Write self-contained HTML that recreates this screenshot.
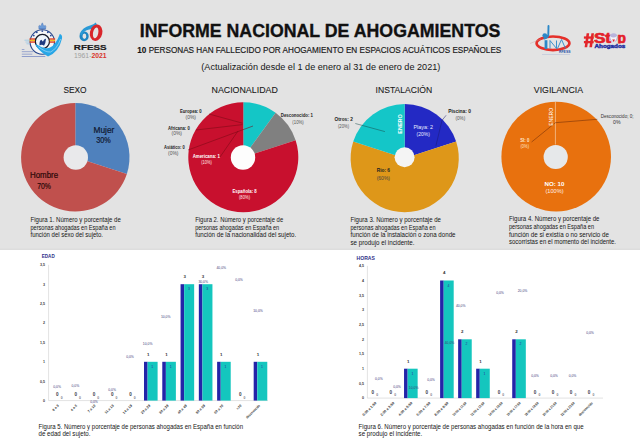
<!DOCTYPE html>
<html><head><meta charset="utf-8"><style>
html,body{margin:0;padding:0;width:640px;height:441px;overflow:hidden;background:#fff}
svg{display:block;font-family:"Liberation Sans", sans-serif}
</style></head><body>
<svg width="640" height="441" viewBox="0 0 640 441">
<rect x="0" y="0" width="640" height="250" fill="#e3e3e3"/><rect x="0" y="248.6" width="640" height="1.4" fill="#dddddd"/>
<rect x="0" y="250" width="640" height="191" fill="#ffffff"/>
<text x="139.8" y="36.9" font-size="18.8" fill="#111" font-weight="bold" text-anchor="start" textLength="360.5" lengthAdjust="spacingAndGlyphs" stroke="#111" stroke-width="0.35">INFORME NACIONAL DE AHOGAMIENTOS</text>
<text x="137.3" y="52.9" font-size="8.2" fill="#161616" stroke="#161616" stroke-width="0.15" textLength="364" lengthAdjust="spacingAndGlyphs"><tspan font-weight="bold">10</tspan> PERSONAS HAN FALLECIDO POR AHOGAMIENTO EN ESPACIOS ACUÁTICOS ESPAÑOLES</text>
<text x="201.3" y="69.6" font-size="9.6" fill="#161616" font-weight="normal" text-anchor="start" textLength="239" lengthAdjust="spacingAndGlyphs" >(Actualización desde el 1 de enero al 31 de enero de 2021)</text>
<g>
<path d="M38.9,28.6 Q38.2,25.8 39.4,25.2 Q40.4,26.4 41.2,25.4 Q41.6,23.6 42.3,22.8 Q43,23.6 43.4,25.4 Q44.2,26.4 45.2,25.2 Q46.4,25.8 45.7,28.6 Z" fill="#6b9bd8" stroke="#3d64a8" stroke-width="0.35"/>
<rect x="38.8" y="28" width="7" height="1.2" fill="#5a86c8"/>
<circle cx="42.3" cy="42" r="12.2" fill="#f6f6f6" stroke="#27468c" stroke-width="1.1"/>
<circle cx="42.4" cy="41.5" r="7.1" fill="#eef4fa" stroke="#161a2a" stroke-width="1.3"/>
<g fill="#2d4d9a"><circle cx="33.8" cy="35.6" r="0.95"/><circle cx="36.8" cy="32.3" r="0.95"/><circle cx="42.3" cy="31.1" r="0.95"/><circle cx="47.8" cy="32.3" r="0.95"/><circle cx="50.8" cy="35.6" r="0.95"/></g>
<rect x="29.5" y="38.3" width="5.5" height="1.5" fill="#e0412c"/><rect x="29.5" y="39.8" width="5.5" height="1.6" fill="#f0c020"/><rect x="29.5" y="41.4" width="5.5" height="1.4" fill="#e0412c"/>
<rect x="49.6" y="38.3" width="5.5" height="1.5" fill="#e0412c"/><rect x="49.6" y="39.8" width="5.5" height="1.6" fill="#f0c020"/><rect x="49.6" y="41.4" width="5.5" height="1.4" fill="#e0412c"/>
<path d="M39.5,45.5 Q39.2,40.5 41.5,39.8 Q42.5,42 43,41.5 Q44,38.5 46,38.8 Q45.8,43 44,45.7 Q42,43.8 39.5,45.5 Z" fill="#1e3a80"/>
<path d="M35.8,44 Q45,49.8 50,47.6 Q56,44.8 59.8,34 Q62.6,34.5 62,38.5 Q59,52 48,56.5 Q40,52 35.8,45.8 Z" fill="#28a6e6"/>
<path d="M38.5,46.8 Q45.5,52.5 50.5,52 Q57,49 60.6,39" stroke="#d8f0fb" stroke-width="0.5" fill="none"/>
<g stroke="#6cb4e6" stroke-width="0.5"><line x1="24.5" y1="40.2" x2="29.5" y2="40.2"/><line x1="25.5" y1="42" x2="29.5" y2="42"/><line x1="26.5" y1="43.8" x2="29.5" y2="43.8"/></g>
<g fill="#6a7fc0"><rect x="21.8" y="49.2" width="2.6" height="0.6"/><rect x="21.8" y="51.5" width="11.5" height="0.6"/><rect x="21.8" y="53.8" width="10.5" height="0.6"/><rect x="21.8" y="56" width="23.5" height="0.7"/></g>
</g>
<path fill-rule="evenodd" fill="#1f86c2" d="M79.5,36.3 A4.6,4.9 0 1 0 88.7,36.3 A4.6,4.9 0 1 0 79.5,36.3 Z M82.5,36.3 A1.9,2.7 0 1 0 86.3,36.3 A1.9,2.7 0 1 0 82.5,36.3 Z"/>
<path fill="#2a9ad6" d="M79.6,34 Q82.5,27.5 90,25.6 Q94,24.6 95.8,22.6 Q97.6,24.5 96.4,27.2 Q93.5,29 88.2,29.8 Q83.5,30.8 81.8,35.5 Z"/>
<g transform="rotate(12 96.1 32.7)"><path fill-rule="evenodd" fill="#d9262b" d="M89.9,32.7 A6.2,8.3 0 1 0 102.3,32.7 A6.2,8.3 0 1 0 89.9,32.7 Z M93.1,33 A2.6,5.5 0 1 0 98.3,33 A2.6,5.5 0 1 0 93.1,33 Z"/></g>
<text x="73.8" y="49.8" font-size="7.7" fill="#1b1b1b" font-weight="bold" text-anchor="start" textLength="32.8" lengthAdjust="spacingAndGlyphs" stroke="#1b1b1b" stroke-width="0.2">RFESS</text>
<text x="74" y="57.8" font-size="6.6" font-weight="bold" textLength="32.6" lengthAdjust="spacingAndGlyphs"><tspan fill="#a0a0a0" font-weight="normal">1961-</tspan><tspan fill="#d8342c">2021</tspan></text>
<ellipse cx="553" cy="43.3" rx="16.4" ry="6.8" fill="none" stroke="#e5302a" stroke-width="2.7"/>
<line x1="530" y1="43.5" x2="541" y2="39" stroke="#c99" stroke-width="0.4"/>
<circle cx="544.8" cy="35.6" r="2.4" fill="#2b88c8"/>
<path d="M548.5,26 L548.3,34.5 Q548,38 544.5,38.5" stroke="#2b88c8" stroke-width="1.9" fill="none" stroke-linecap="round"/>
<rect x="544.6" y="40.2" width="2.8" height="8.8" fill="#2b88c8"/>
<path d="M550,48.5 L550,40.5 L556.5,48.5 L556.5,40.5 M557.5,48.5 L561.5,39.5 L565.5,48.5" stroke="#2b88c8" stroke-width="0.9" fill="none"/>
<text x="559" y="52.8" font-size="2.6" fill="#1f4fa8" font-weight="bold" text-anchor="start" textLength="11.5" lengthAdjust="spacingAndGlyphs" >RFESS</text>
<rect x="542" y="54.3" width="28" height="0.5" fill="#b0bad6"/>
<g fill="#e3262b"><path d="M586.6,33.2 L589.2,33.2 L587.2,47.2 L584.6,47.2 Z"/><path d="M591.4,33.2 L594,33.2 L592,47.2 L589.4,47.2 Z"/><rect x="583.9" y="36.4" width="9.8" height="2.3"/><rect x="583.9" y="41" width="9.8" height="2.3"/></g>
<text x="593.9" y="42.6" font-size="14.0" fill="#e3202a" font-weight="bold" text-anchor="start" textLength="17.2" lengthAdjust="spacingAndGlyphs" stroke="#e3202a" stroke-width="0.7">St</text>
<circle cx="613.6" cy="37.6" r="4.3" fill="#b9b4dc"/>
<path d="M610,36 Q613.5,39 617,36 Q616.5,41 613.6,41.9 Q610.5,41 610,36 Z" fill="#f4f4f8"/>
<path d="M612.2,39.5 L615,39.5 L613.6,42 Z" fill="#e3262b"/>
<text x="617.4" y="42.6" font-size="14.0" fill="#e3202a" font-weight="bold" text-anchor="start" textLength="8.4" lengthAdjust="spacingAndGlyphs" stroke="#e3202a" stroke-width="0.7">p</text>
<rect x="594" y="43.6" width="32" height="4.4" fill="#e3e3e3"/>
<text x="594.5" y="47.6" font-size="5.2" fill="#1f2fa0" font-weight="bold" stroke="#1f2fa0" stroke-width="0.4" textLength="30.8" lengthAdjust="spacingAndGlyphs">Ahogados</text>
<text x="63.4" y="92.8" font-size="9.8" fill="#161616" font-weight="normal" text-anchor="start" textLength="23.2" lengthAdjust="spacingAndGlyphs" stroke="#161616" stroke-width="0.08">SEXO</text>
<text x="211.5" y="92.8" font-size="9.8" fill="#161616" font-weight="normal" text-anchor="start" textLength="66.3" lengthAdjust="spacingAndGlyphs" stroke="#161616" stroke-width="0.08">NACIONALIDAD</text>
<text x="375.6" y="92.8" font-size="9.8" fill="#161616" font-weight="normal" text-anchor="start" textLength="56.6" lengthAdjust="spacingAndGlyphs" stroke="#161616" stroke-width="0.08">INSTALACIÓN</text>
<text x="533.8" y="92.8" font-size="9.8" fill="#161616" font-weight="normal" text-anchor="start" textLength="49.2" lengthAdjust="spacingAndGlyphs" stroke="#161616" stroke-width="0.08">VIGILANCIA</text>
<path d="M75.30,157.30 L75.30,103.10 A54.2,54.2 0 0 1 126.85,174.05 Z" fill="#4f81bd"/>
<path d="M75.30,157.30 L126.85,174.05 A54.2,54.2 0 1 1 75.30,103.10 Z" fill="#c0504d"/>
<circle cx="75.8" cy="157.5" r="12.2" fill="#e9e9eb"/>
<text x="93.5" y="132.7" font-size="8.2" fill="#101830" font-weight="normal" text-anchor="start" textLength="20.9" lengthAdjust="spacingAndGlyphs" stroke="#101830" stroke-width="0.2">Mujer</text>
<text x="96.2" y="142.7" font-size="8.2" fill="#101830" font-weight="normal" text-anchor="start" textLength="14.5" lengthAdjust="spacingAndGlyphs" stroke="#101830" stroke-width="0.2">30%</text>
<text x="30" y="178.4" font-size="8.2" fill="#2a0808" font-weight="normal" text-anchor="start" textLength="28.1" lengthAdjust="spacingAndGlyphs" stroke="#2a0808" stroke-width="0.2">Hombre</text>
<text x="37.2" y="188.6" font-size="8.2" fill="#2a0808" font-weight="normal" text-anchor="start" textLength="13.7" lengthAdjust="spacingAndGlyphs" stroke="#2a0808" stroke-width="0.2">70%</text>
<path d="M243.30,157.30 L243.30,102.30 A55,55 0 0 1 275.63,112.80 Z" fill="#14c6c6"/>
<path d="M243.30,157.30 L275.63,112.80 A55,55 0 0 1 295.61,140.30 Z" fill="#808080"/>
<path d="M243.30,157.30 L295.61,140.30 A55,55 0 1 1 243.30,102.30 Z" fill="#c8102e"/>
<circle cx="243" cy="157.5" r="12.2" fill="#fdfdfd"/>
<g stroke="#7a0a14" stroke-width="0.55" fill="none"><line x1="209" y1="114" x2="242.5" y2="123.2"/><line x1="196" y1="130" x2="242.5" y2="124.6"/><line x1="188" y1="150" x2="253" y2="126"/><line x1="220" y1="157" x2="238" y2="131"/></g>
<text x="180" y="113" font-size="4.8" fill="#222" font-weight="bold" text-anchor="start" textLength="21.7" lengthAdjust="spacingAndGlyphs" >Europea: 0</text>
<text x="185.5" y="119" font-size="4.8" fill="#555" font-weight="normal" text-anchor="start" textLength="10.5" lengthAdjust="spacingAndGlyphs" >(0%)</text>
<text x="168" y="129.5" font-size="4.8" fill="#222" font-weight="bold" text-anchor="start" textLength="21.8" lengthAdjust="spacingAndGlyphs" >Africana: 0</text>
<text x="171.5" y="135.2" font-size="4.8" fill="#555" font-weight="normal" text-anchor="start" textLength="10.5" lengthAdjust="spacingAndGlyphs" >(0%)</text>
<text x="164" y="148.5" font-size="4.8" fill="#222" font-weight="bold" text-anchor="start" textLength="20.8" lengthAdjust="spacingAndGlyphs" >Asiático: 0</text>
<text x="168" y="154.5" font-size="4.8" fill="#555" font-weight="normal" text-anchor="start" textLength="10.5" lengthAdjust="spacingAndGlyphs" >(0%)</text>
<text x="192.7" y="158" font-size="4.8" fill="#ffffff" font-weight="bold" text-anchor="start" textLength="27.2" lengthAdjust="spacingAndGlyphs" >Americana: 1</text>
<text x="201.2" y="164.3" font-size="4.8" fill="#ffe8e8" font-weight="normal" text-anchor="start" textLength="10.6" lengthAdjust="spacingAndGlyphs" >(10%)</text>
<text x="280.8" y="117.3" font-size="4.8" fill="#222" font-weight="bold" text-anchor="start" textLength="32.2" lengthAdjust="spacingAndGlyphs" >Desconocido: 1</text>
<text x="292.3" y="123.5" font-size="4.8" fill="#555" font-weight="normal" text-anchor="start" textLength="11.5" lengthAdjust="spacingAndGlyphs" >(10%)</text>
<text x="232.4" y="193" font-size="4.8" fill="#ffffff" font-weight="bold" text-anchor="start" textLength="24.3" lengthAdjust="spacingAndGlyphs" >Española: 8</text>
<text x="239" y="198.9" font-size="4.8" fill="#ffe8e8" font-weight="normal" text-anchor="start" textLength="11" lengthAdjust="spacingAndGlyphs" >(80%)</text>
<path d="M404.70,158.20 L404.70,104.10 A54.1,54.1 0 0 1 456.15,141.48 Z" fill="#2329c4"/>
<path d="M404.70,158.20 L456.15,141.48 A54.1,54.1 0 1 1 353.25,141.48 Z" fill="#de9719"/>
<path d="M404.70,158.20 L353.25,141.48 A54.1,54.1 0 0 1 404.70,104.10 Z" fill="#14c6c8"/>
<circle cx="404.6" cy="157.3" r="10.0" fill="#f4f4f4"/>
<line x1="355.3" y1="123.5" x2="384.9" y2="131.6" stroke="#1a4a4a" stroke-width="0.5"/>
<polyline points="446.1,115.3 442,120.4 435.9,145.9" stroke="#1a1a70" stroke-width="0.5" fill="none"/>
<text x="0" y="0" font-size="6" fill="#fff" font-weight="bold" transform="translate(401.8,133.7) rotate(-90)" textLength="19.4" lengthAdjust="spacingAndGlyphs">ENERO</text>
<text x="334.6" y="120.5" font-size="4.8" fill="#222" font-weight="bold" text-anchor="start" textLength="18.2" lengthAdjust="spacingAndGlyphs" >Otros: 2</text>
<text x="338" y="128.2" font-size="4.8" fill="#555" font-weight="normal" text-anchor="start" textLength="11" lengthAdjust="spacingAndGlyphs" >(20%)</text>
<text x="448.2" y="113.3" font-size="4.8" fill="#222" font-weight="bold" text-anchor="start" textLength="22.8" lengthAdjust="spacingAndGlyphs" >Piscina: 0</text>
<text x="455.5" y="120.4" font-size="4.8" fill="#555" font-weight="normal" text-anchor="start" textLength="9.8" lengthAdjust="spacingAndGlyphs" >(0%)</text>
<text x="413.5" y="129" font-size="4.8" fill="#e8ecff" font-weight="normal" text-anchor="start" textLength="19.4" lengthAdjust="spacingAndGlyphs" >Playa: 2</text>
<text x="416.5" y="136.3" font-size="4.8" fill="#e8ecff" font-weight="normal" text-anchor="start" textLength="13.3" lengthAdjust="spacingAndGlyphs" >(20%)</text>
<text x="376.7" y="172.4" font-size="4.8" fill="#222" font-weight="bold" text-anchor="start" textLength="13.3" lengthAdjust="spacingAndGlyphs" >Rio: 6</text>
<text x="376.7" y="179.6" font-size="4.8" fill="#444" font-weight="normal" text-anchor="start" textLength="13.3" lengthAdjust="spacingAndGlyphs" >(60%)</text>
<circle cx="556.2" cy="156.6" r="54.8" fill="#e8710e"/>
<circle cx="555.7" cy="157.0" r="12.1" fill="#e6e8ea"/>
<line x1="555.4" y1="101.8" x2="555.4" y2="144.5" stroke="#f7cfa8" stroke-width="0.7"/>
<polyline points="531.6,142 555.4,122.7 597.3,119.3" stroke="#7a3208" stroke-width="0.6" fill="none"/>
<text x="0" y="0" font-size="6" fill="#fff" transform="translate(553.1,125.8) rotate(-90)" textLength="17.9" lengthAdjust="spacingAndGlyphs">ENERO</text>
<text x="520.2" y="142" font-size="4.8" fill="#ffe6cc" font-weight="bold" text-anchor="start" textLength="9.1" lengthAdjust="spacingAndGlyphs" >SI: 0</text>
<text x="520.5" y="147.6" font-size="4.8" fill="#ffe0c8" font-weight="normal" text-anchor="start" textLength="8.5" lengthAdjust="spacingAndGlyphs" >(0%)</text>
<text x="600.7" y="118.1" font-size="4.8" fill="#333" font-weight="normal" text-anchor="start" textLength="32.9" lengthAdjust="spacingAndGlyphs" >Desconocido; 0;</text>
<text x="613" y="123.8" font-size="4.8" fill="#333" font-weight="normal" text-anchor="start" textLength="7.5" lengthAdjust="spacingAndGlyphs" >0%</text>
<text x="544.5" y="185.8" font-size="6.0" fill="#ffffff" font-weight="bold" text-anchor="start" textLength="20.0" lengthAdjust="spacingAndGlyphs" >NO: 10</text>
<text x="545.5" y="193.2" font-size="5.8" fill="#fff0e4" font-weight="normal" text-anchor="start" textLength="18.0" lengthAdjust="spacingAndGlyphs" >(100%)</text>
<text x="30.5" y="221.8" font-size="6.6" fill="#151515" font-weight="normal" text-anchor="start" textLength="90.3" lengthAdjust="spacingAndGlyphs" >Figura 1. Número y porcentaje de</text>
<text x="30.5" y="229.55" font-size="6.6" fill="#151515" font-weight="normal" text-anchor="start" textLength="85" lengthAdjust="spacingAndGlyphs" >personas ahogadas en España en</text>
<text x="30.5" y="237.3" font-size="6.6" fill="#151515" font-weight="normal" text-anchor="start" textLength="72.5" lengthAdjust="spacingAndGlyphs" >función del sexo del sujeto.</text>
<text x="195.2" y="221.8" font-size="6.6" fill="#151515" font-weight="normal" text-anchor="start" textLength="88" lengthAdjust="spacingAndGlyphs" >Figura 2. Número y porcentaje de</text>
<text x="195.2" y="229.55" font-size="6.6" fill="#151515" font-weight="normal" text-anchor="start" textLength="84" lengthAdjust="spacingAndGlyphs" >personas ahogadas en España en</text>
<text x="195.2" y="237.3" font-size="6.6" fill="#151515" font-weight="normal" text-anchor="start" textLength="101" lengthAdjust="spacingAndGlyphs" >función de la nacionalidad del sujeto.</text>
<text x="350.5" y="221.8" font-size="6.6" fill="#151515" font-weight="normal" text-anchor="start" textLength="90.5" lengthAdjust="spacingAndGlyphs" >Figura 3. Número y porcentaje de</text>
<text x="350.5" y="229.55" font-size="6.6" fill="#151515" font-weight="normal" text-anchor="start" textLength="85" lengthAdjust="spacingAndGlyphs" >personas ahogadas en España en</text>
<text x="350.5" y="237.3" font-size="6.6" fill="#151515" font-weight="normal" text-anchor="start" textLength="105" lengthAdjust="spacingAndGlyphs" >función de la instalación o zona donde</text>
<text x="350.5" y="245.05" font-size="6.6" fill="#151515" font-weight="normal" text-anchor="start" textLength="64" lengthAdjust="spacingAndGlyphs" >se produjo el incidente.</text>
<text x="509" y="221.0" font-size="6.6" fill="#151515" font-weight="normal" text-anchor="start" textLength="90.5" lengthAdjust="spacingAndGlyphs" >Figura 4. Número y porcentaje de</text>
<text x="509" y="228.75" font-size="6.6" fill="#151515" font-weight="normal" text-anchor="start" textLength="85" lengthAdjust="spacingAndGlyphs" >personas ahogadas en España en</text>
<text x="509" y="236.5" font-size="6.6" fill="#151515" font-weight="normal" text-anchor="start" textLength="100" lengthAdjust="spacingAndGlyphs" >función de si existía o no servicio de</text>
<text x="509" y="244.25" font-size="6.6" fill="#151515" font-weight="normal" text-anchor="start" textLength="107" lengthAdjust="spacingAndGlyphs" >socorristas en el momento del incidente.</text>
<line x1="48.6" y1="264.8" x2="48.6" y2="400.6" stroke="#cfcfcf" stroke-width="0.6"/>
<line x1="48.6" y1="400.6" x2="268" y2="400.6" stroke="#cfcfcf" stroke-width="0.6"/>
<text x="45.1" y="401.9" font-size="3.6" fill="#3a3a3a" font-weight="bold" text-anchor="end" >0</text>
<text x="45.1" y="382.5" font-size="3.6" fill="#3a3a3a" font-weight="bold" text-anchor="end" >0,5</text>
<text x="45.1" y="363.1" font-size="3.6" fill="#3a3a3a" font-weight="bold" text-anchor="end" >1</text>
<text x="45.1" y="343.7" font-size="3.6" fill="#3a3a3a" font-weight="bold" text-anchor="end" >1,5</text>
<text x="45.1" y="324.3" font-size="3.6" fill="#3a3a3a" font-weight="bold" text-anchor="end" >2</text>
<text x="45.1" y="304.9" font-size="3.6" fill="#3a3a3a" font-weight="bold" text-anchor="end" >2,5</text>
<text x="45.1" y="285.5" font-size="3.6" fill="#3a3a3a" font-weight="bold" text-anchor="end" >3</text>
<text x="45.1" y="266.1" font-size="3.6" fill="#3a3a3a" font-weight="bold" text-anchor="end" >3,5</text>
<text x="41.8" y="258.4" font-size="4.6" fill="#2e2e88" font-weight="bold" text-anchor="start" textLength="12.9" lengthAdjust="spacingAndGlyphs" >EDAD</text>
<text x="57.4" y="396.0" font-size="4.6" fill="#3a3a48" font-weight="bold" text-anchor="middle" >0</text>
<text x="61.7" y="398.8" font-size="3.4" fill="#7a7a88" font-weight="bold" text-anchor="middle" >0</text>
<text x="0" y="0" font-size="3.5" fill="#333" font-weight="bold" text-anchor="end" transform="translate(59.20,405.90) rotate(-45)">0 a 3</text>
<text x="75.68" y="396.0" font-size="4.6" fill="#3a3a48" font-weight="bold" text-anchor="middle" >0</text>
<text x="79.98" y="398.8" font-size="3.4" fill="#7a7a88" font-weight="bold" text-anchor="middle" >0</text>
<text x="0" y="0" font-size="3.5" fill="#333" font-weight="bold" text-anchor="end" transform="translate(77.48,405.90) rotate(-45)">4 a 6</text>
<text x="93.96" y="396.0" font-size="4.6" fill="#3a3a48" font-weight="bold" text-anchor="middle" >0</text>
<text x="98.26" y="398.8" font-size="3.4" fill="#7a7a88" font-weight="bold" text-anchor="middle" >0</text>
<text x="0" y="0" font-size="3.5" fill="#333" font-weight="bold" text-anchor="end" transform="translate(95.76,405.90) rotate(-45)">7 a 10</text>
<text x="112.24" y="396.0" font-size="4.6" fill="#3a3a48" font-weight="bold" text-anchor="middle" >0</text>
<text x="116.54" y="398.8" font-size="3.4" fill="#7a7a88" font-weight="bold" text-anchor="middle" >0</text>
<text x="0" y="0" font-size="3.5" fill="#333" font-weight="bold" text-anchor="end" transform="translate(114.04,405.90) rotate(-45)">11 a 13</text>
<text x="130.52" y="396.0" font-size="4.6" fill="#3a3a48" font-weight="bold" text-anchor="middle" >0</text>
<text x="134.82" y="398.8" font-size="3.4" fill="#7a7a88" font-weight="bold" text-anchor="middle" >0</text>
<text x="0" y="0" font-size="3.5" fill="#333" font-weight="bold" text-anchor="end" transform="translate(132.32,405.90) rotate(-45)">14 a 19</text>
<rect x="144.00" y="361.80" width="3.6" height="38.80" fill="#2424a8"/>
<rect x="147.60" y="361.80" width="10" height="38.80" fill="#14c6be"/>
<text x="148.2" y="355.6" font-size="4.4" fill="#333" font-weight="bold" text-anchor="middle" >1</text>
<text x="152.3" y="367.8" font-size="3.4" fill="#2b2d9f" font-weight="normal" text-anchor="middle" >1</text>
<text x="0" y="0" font-size="3.5" fill="#333" font-weight="bold" text-anchor="end" transform="translate(150.60,405.90) rotate(-45)">20 a 29</text>
<rect x="162.28" y="361.80" width="3.6" height="38.80" fill="#2424a8"/>
<rect x="165.88" y="361.80" width="10" height="38.80" fill="#14c6be"/>
<text x="166.48" y="355.6" font-size="4.4" fill="#333" font-weight="bold" text-anchor="middle" >1</text>
<text x="170.58" y="367.8" font-size="3.4" fill="#2b2d9f" font-weight="normal" text-anchor="middle" >1</text>
<text x="0" y="0" font-size="3.5" fill="#333" font-weight="bold" text-anchor="end" transform="translate(168.88,405.90) rotate(-45)">30 a 39</text>
<rect x="180.56" y="284.20" width="3.6" height="116.40" fill="#2424a8"/>
<rect x="184.16" y="284.20" width="10" height="116.40" fill="#14c6be"/>
<text x="184.76" y="278.0" font-size="4.4" fill="#333" font-weight="bold" text-anchor="middle" >3</text>
<text x="188.86" y="290.2" font-size="3.4" fill="#2b2d9f" font-weight="normal" text-anchor="middle" >3</text>
<text x="0" y="0" font-size="3.5" fill="#333" font-weight="bold" text-anchor="end" transform="translate(187.16,405.90) rotate(-45)">40 a 49</text>
<rect x="198.84" y="284.20" width="3.6" height="116.40" fill="#2424a8"/>
<rect x="202.44" y="284.20" width="10" height="116.40" fill="#14c6be"/>
<text x="203.04" y="278.0" font-size="4.4" fill="#333" font-weight="bold" text-anchor="middle" >3</text>
<text x="207.14" y="290.2" font-size="3.4" fill="#2b2d9f" font-weight="normal" text-anchor="middle" >3</text>
<text x="0" y="0" font-size="3.5" fill="#333" font-weight="bold" text-anchor="end" transform="translate(205.44,405.90) rotate(-45)">50 a 59</text>
<rect x="217.12" y="361.80" width="3.6" height="38.80" fill="#2424a8"/>
<rect x="220.72" y="361.80" width="10" height="38.80" fill="#14c6be"/>
<text x="221.32" y="355.6" font-size="4.4" fill="#333" font-weight="bold" text-anchor="middle" >1</text>
<text x="225.42" y="367.8" font-size="3.4" fill="#2b2d9f" font-weight="normal" text-anchor="middle" >1</text>
<text x="0" y="0" font-size="3.5" fill="#333" font-weight="bold" text-anchor="end" transform="translate(223.72,405.90) rotate(-45)">60 a 70</text>
<text x="240.2" y="396.0" font-size="4.6" fill="#3a3a48" font-weight="bold" text-anchor="middle" >0</text>
<text x="244.5" y="398.8" font-size="3.4" fill="#7a7a88" font-weight="bold" text-anchor="middle" >0</text>
<text x="0" y="0" font-size="3.5" fill="#333" font-weight="bold" text-anchor="end" transform="translate(242.00,405.90) rotate(-45)">&gt;70</text>
<rect x="253.68" y="361.80" width="3.6" height="38.80" fill="#2424a8"/>
<rect x="257.28" y="361.80" width="10" height="38.80" fill="#14c6be"/>
<text x="257.88" y="355.6" font-size="4.4" fill="#333" font-weight="bold" text-anchor="middle" >1</text>
<text x="261.98" y="367.8" font-size="3.4" fill="#2b2d9f" font-weight="normal" text-anchor="middle" >1</text>
<text x="0" y="0" font-size="3.5" fill="#333" font-weight="bold" text-anchor="end" textLength="18.3" lengthAdjust="spacingAndGlyphs" transform="translate(260.28,405.90) rotate(-45)">desconocido</text>
<text x="57.1" y="388.3" font-size="3.4" fill="#3c3c78" font-weight="normal" text-anchor="middle" >0,0%</text>
<text x="75.3" y="387.3" font-size="3.4" fill="#3c3c78" font-weight="normal" text-anchor="middle" >0,0%</text>
<text x="94" y="402.8" font-size="3.4" fill="#3c3c78" font-weight="normal" text-anchor="middle" >0,0%</text>
<text x="112.1" y="391.3" font-size="3.4" fill="#3c3c78" font-weight="normal" text-anchor="middle" >0,0%</text>
<text x="130" y="357.8" font-size="3.4" fill="#3c3c78" font-weight="normal" text-anchor="middle" >0,0%</text>
<text x="147.6" y="344.8" font-size="3.4" fill="#3c3c78" font-weight="normal" text-anchor="middle" >10,0%</text>
<text x="165.7" y="318.3" font-size="3.4" fill="#3c3c78" font-weight="normal" text-anchor="middle" >10,0%</text>
<text x="203.2" y="282.8" font-size="3.4" fill="#3c3c78" font-weight="normal" text-anchor="middle" >30,0%</text>
<text x="221.3" y="268.8" font-size="3.4" fill="#3c3c78" font-weight="normal" text-anchor="middle" >40,0%</text>
<text x="239" y="281.3" font-size="3.4" fill="#3c3c78" font-weight="normal" text-anchor="middle" >0,0%</text>
<text x="258" y="311.8" font-size="3.4" fill="#3c3c78" font-weight="normal" text-anchor="middle" >10,0%</text>
<line x1="367.4" y1="265.8" x2="367.4" y2="398.1" stroke="#cfcfcf" stroke-width="0.6"/>
<line x1="367.4" y1="398.1" x2="603" y2="398.1" stroke="#cfcfcf" stroke-width="0.6"/>
<text x="363.9" y="399.4" font-size="3.6" fill="#3a3a3a" font-weight="bold" text-anchor="end" >0</text>
<text x="363.9" y="384.7" font-size="3.6" fill="#3a3a3a" font-weight="bold" text-anchor="end" >0,5</text>
<text x="363.9" y="370.0" font-size="3.6" fill="#3a3a3a" font-weight="bold" text-anchor="end" >1</text>
<text x="363.9" y="355.3" font-size="3.6" fill="#3a3a3a" font-weight="bold" text-anchor="end" >1,5</text>
<text x="363.9" y="340.6" font-size="3.6" fill="#3a3a3a" font-weight="bold" text-anchor="end" >2</text>
<text x="363.9" y="325.9" font-size="3.6" fill="#3a3a3a" font-weight="bold" text-anchor="end" >2,5</text>
<text x="363.9" y="311.2" font-size="3.6" fill="#3a3a3a" font-weight="bold" text-anchor="end" >3</text>
<text x="363.9" y="296.5" font-size="3.6" fill="#3a3a3a" font-weight="bold" text-anchor="end" >3,5</text>
<text x="363.9" y="281.8" font-size="3.6" fill="#3a3a3a" font-weight="bold" text-anchor="end" >4</text>
<text x="363.9" y="267.1" font-size="3.6" fill="#3a3a3a" font-weight="bold" text-anchor="end" >4,5</text>
<text x="356.6" y="259.7" font-size="5.2" fill="#2e2e88" font-weight="bold" text-anchor="start" textLength="18.2" lengthAdjust="spacingAndGlyphs" >HORAS</text>
<text x="372.78" y="393.5" font-size="4.6" fill="#3a3a48" font-weight="bold" text-anchor="middle" >0</text>
<text x="377.08" y="396.3" font-size="3.4" fill="#7a7a88" font-weight="bold" text-anchor="middle" >0</text>
<text x="0" y="0" font-size="3.5" fill="#333" font-weight="bold" text-anchor="end" textLength="18.3" lengthAdjust="spacingAndGlyphs" transform="translate(376.58,403.40) rotate(-45)">0:00 a 1:59</text>
<text x="390.81" y="393.5" font-size="4.6" fill="#3a3a48" font-weight="bold" text-anchor="middle" >0</text>
<text x="395.11" y="396.3" font-size="3.4" fill="#7a7a88" font-weight="bold" text-anchor="middle" >0</text>
<text x="0" y="0" font-size="3.5" fill="#333" font-weight="bold" text-anchor="end" textLength="18.3" lengthAdjust="spacingAndGlyphs" transform="translate(394.61,403.40) rotate(-45)">2:00 a 3:59</text>
<rect x="404.04" y="368.70" width="3.6" height="29.40" fill="#2424a8"/>
<rect x="407.64" y="368.70" width="10" height="29.40" fill="#14c6be"/>
<text x="408.24" y="362.5" font-size="4.4" fill="#333" font-weight="bold" text-anchor="middle" >1</text>
<text x="412.34" y="374.7" font-size="3.4" fill="#2b2d9f" font-weight="normal" text-anchor="middle" >1</text>
<text x="0" y="0" font-size="3.5" fill="#333" font-weight="bold" text-anchor="end" textLength="18.3" lengthAdjust="spacingAndGlyphs" transform="translate(412.64,403.40) rotate(-45)">4:00 a 5:59</text>
<text x="426.87" y="393.5" font-size="4.6" fill="#3a3a48" font-weight="bold" text-anchor="middle" >0</text>
<text x="431.17" y="396.3" font-size="3.4" fill="#7a7a88" font-weight="bold" text-anchor="middle" >0</text>
<text x="0" y="0" font-size="3.5" fill="#333" font-weight="bold" text-anchor="end" textLength="18.3" lengthAdjust="spacingAndGlyphs" transform="translate(430.67,403.40) rotate(-45)">6:00 a 7:59</text>
<rect x="440.10" y="280.50" width="3.6" height="117.60" fill="#2424a8"/>
<rect x="443.70" y="280.50" width="10" height="117.60" fill="#14c6be"/>
<text x="444.3" y="274.3" font-size="4.4" fill="#333" font-weight="bold" text-anchor="middle" >4</text>
<text x="448.4" y="286.5" font-size="3.4" fill="#2b2d9f" font-weight="normal" text-anchor="middle" >4</text>
<text x="0" y="0" font-size="3.5" fill="#333" font-weight="bold" text-anchor="end" textLength="18.3" lengthAdjust="spacingAndGlyphs" transform="translate(448.70,403.40) rotate(-45)">8:00 a 9:59</text>
<rect x="458.13" y="339.30" width="3.6" height="58.80" fill="#2424a8"/>
<rect x="461.73" y="339.30" width="10" height="58.80" fill="#14c6be"/>
<text x="462.33" y="333.1" font-size="4.4" fill="#333" font-weight="bold" text-anchor="middle" >2</text>
<text x="466.43" y="345.3" font-size="3.4" fill="#2b2d9f" font-weight="normal" text-anchor="middle" >2</text>
<text x="0" y="0" font-size="3.5" fill="#333" font-weight="bold" text-anchor="end" textLength="18.3" lengthAdjust="spacingAndGlyphs" transform="translate(466.73,403.40) rotate(-45)">10:00 a 11:59</text>
<rect x="476.16" y="368.70" width="3.6" height="29.40" fill="#2424a8"/>
<rect x="479.76" y="368.70" width="10" height="29.40" fill="#14c6be"/>
<text x="480.36" y="362.5" font-size="4.4" fill="#333" font-weight="bold" text-anchor="middle" >1</text>
<text x="484.46" y="374.7" font-size="3.4" fill="#2b2d9f" font-weight="normal" text-anchor="middle" >1</text>
<text x="0" y="0" font-size="3.5" fill="#333" font-weight="bold" text-anchor="end" textLength="18.3" lengthAdjust="spacingAndGlyphs" transform="translate(484.76,403.40) rotate(-45)">12:00 a 13:59</text>
<text x="498.99" y="393.5" font-size="4.6" fill="#3a3a48" font-weight="bold" text-anchor="middle" >0</text>
<text x="503.29" y="396.3" font-size="3.4" fill="#7a7a88" font-weight="bold" text-anchor="middle" >0</text>
<text x="0" y="0" font-size="3.5" fill="#333" font-weight="bold" text-anchor="end" textLength="18.3" lengthAdjust="spacingAndGlyphs" transform="translate(502.79,403.40) rotate(-45)">14:00 a 15:59</text>
<rect x="512.22" y="339.30" width="3.6" height="58.80" fill="#2424a8"/>
<rect x="515.82" y="339.30" width="10" height="58.80" fill="#14c6be"/>
<text x="516.42" y="333.1" font-size="4.4" fill="#333" font-weight="bold" text-anchor="middle" >2</text>
<text x="520.52" y="345.3" font-size="3.4" fill="#2b2d9f" font-weight="normal" text-anchor="middle" >2</text>
<text x="0" y="0" font-size="3.5" fill="#333" font-weight="bold" text-anchor="end" textLength="18.3" lengthAdjust="spacingAndGlyphs" transform="translate(520.82,403.40) rotate(-45)">16:00 a 17:59</text>
<text x="535.05" y="393.5" font-size="4.6" fill="#3a3a48" font-weight="bold" text-anchor="middle" >0</text>
<text x="539.35" y="396.3" font-size="3.4" fill="#7a7a88" font-weight="bold" text-anchor="middle" >0</text>
<text x="0" y="0" font-size="3.5" fill="#333" font-weight="bold" text-anchor="end" textLength="18.3" lengthAdjust="spacingAndGlyphs" transform="translate(538.85,403.40) rotate(-45)">18:00 a 19:59</text>
<text x="553.08" y="393.5" font-size="4.6" fill="#3a3a48" font-weight="bold" text-anchor="middle" >0</text>
<text x="557.38" y="396.3" font-size="3.4" fill="#7a7a88" font-weight="bold" text-anchor="middle" >0</text>
<text x="0" y="0" font-size="3.5" fill="#333" font-weight="bold" text-anchor="end" textLength="18.3" lengthAdjust="spacingAndGlyphs" transform="translate(556.88,403.40) rotate(-45)">20:00 a 21:59</text>
<text x="571.11" y="393.5" font-size="4.6" fill="#3a3a48" font-weight="bold" text-anchor="middle" >0</text>
<text x="575.41" y="396.3" font-size="3.4" fill="#7a7a88" font-weight="bold" text-anchor="middle" >0</text>
<text x="0" y="0" font-size="3.5" fill="#333" font-weight="bold" text-anchor="end" textLength="18.3" lengthAdjust="spacingAndGlyphs" transform="translate(574.91,403.40) rotate(-45)">22:00 a 23:59</text>
<text x="589.14" y="393.5" font-size="4.6" fill="#3a3a48" font-weight="bold" text-anchor="middle" >0</text>
<text x="593.44" y="396.3" font-size="3.4" fill="#7a7a88" font-weight="bold" text-anchor="middle" >0</text>
<text x="0" y="0" font-size="3.5" fill="#333" font-weight="bold" text-anchor="end" textLength="18.3" lengthAdjust="spacingAndGlyphs" transform="translate(592.94,403.40) rotate(-45)">desconocido</text>
<text x="378.9" y="379.8" font-size="3.4" fill="#3c3c78" font-weight="normal" text-anchor="middle" >0,0%</text>
<text x="397" y="388.3" font-size="3.4" fill="#3c3c78" font-weight="normal" text-anchor="middle" >0,0%</text>
<text x="413.6" y="389.3" font-size="3.4" fill="#3c3c78" font-weight="normal" text-anchor="middle" >10,0%</text>
<text x="431" y="380.8" font-size="3.4" fill="#3c3c78" font-weight="normal" text-anchor="middle" >0,0%</text>
<text x="449.5" y="343.8" font-size="3.4" fill="#3c3c78" font-weight="normal" text-anchor="middle" >40,0%</text>
<text x="460.7" y="307.3" font-size="3.4" fill="#3c3c78" font-weight="normal" text-anchor="middle" >40,0%</text>
<text x="500" y="293.8" font-size="3.4" fill="#3c3c78" font-weight="normal" text-anchor="middle" >0,0%</text>
<text x="522.5" y="292.3" font-size="3.4" fill="#3c3c78" font-weight="normal" text-anchor="middle" >20,0%</text>
<text x="535" y="377.3" font-size="3.4" fill="#3c3c78" font-weight="normal" text-anchor="middle" >0,0%</text>
<text x="554" y="377.3" font-size="3.4" fill="#3c3c78" font-weight="normal" text-anchor="middle" >0,0%</text>
<text x="572.5" y="377.3" font-size="3.4" fill="#3c3c78" font-weight="normal" text-anchor="middle" >0,0%</text>
<text x="590" y="333.8" font-size="3.4" fill="#3c3c78" font-weight="normal" text-anchor="middle" >0,0%</text>
<text x="38.5" y="428.8" font-size="6.6" fill="#151515" font-weight="normal" text-anchor="start" textLength="204.5" lengthAdjust="spacingAndGlyphs" >Figura 5. Número y porcentaje de personas ahogadas en España en función</text>
<text x="38.5" y="436.4" font-size="6.6" fill="#151515" font-weight="normal" text-anchor="start" textLength="52" lengthAdjust="spacingAndGlyphs" >de edad del sujeto.</text>
<text x="358.6" y="429.0" font-size="6.6" fill="#151515" font-weight="normal" text-anchor="start" textLength="225" lengthAdjust="spacingAndGlyphs" >Figura 6. Número y porcentaje de personas ahogadas en función de la hora en que</text>
<text x="358.6" y="436.4" font-size="6.6" fill="#151515" font-weight="normal" text-anchor="start" textLength="63.7" lengthAdjust="spacingAndGlyphs" >se produjo el incidente.</text>
</svg></body></html>
